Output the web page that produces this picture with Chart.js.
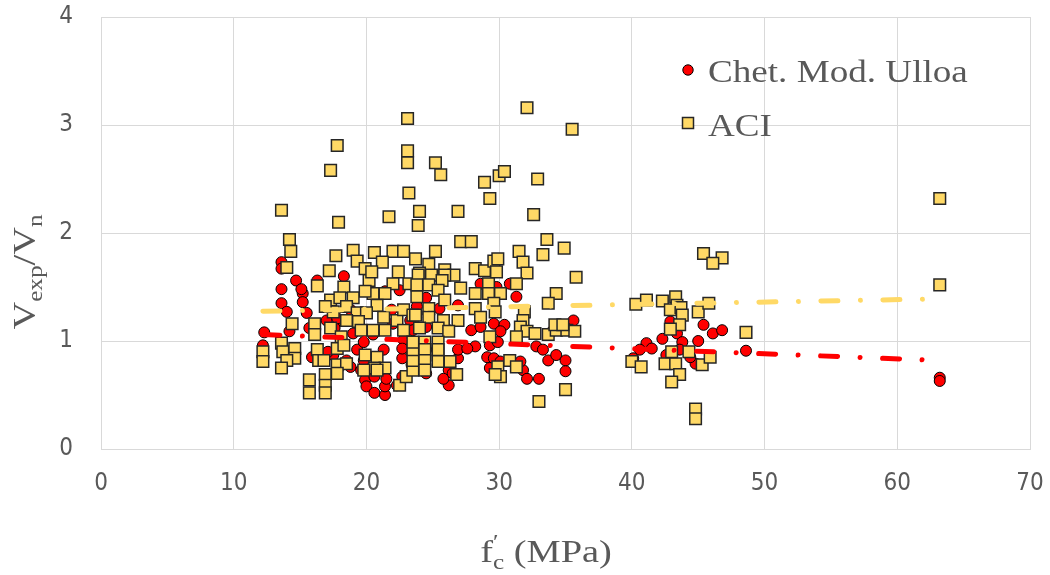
<!DOCTYPE html>
<html>
<head>
<meta charset="utf-8">
<script src="https://cdn.jsdelivr.net/npm/chart.js@4.4.1/dist/chart.umd.min.js"></script>
<style>
  html, body { margin: 0; padding: 0; background: #ffffff; }
  #wrap { width: 1050px; height: 575px; }
</style>
</head>
<body>
<div id="wrap"><canvas id="chart" width="1050" height="575"></canvas></div>
<script>
// Shear strength ratio V_exp / V_n against concrete strength f'c (MPa)

// Chet. Mod. Ulloa model: f'c values and ratios
const ulloaFc = [
  13.6, 14.7, 16.3, 18.3, 15.2, 15.2, 13.6, 14.0, 15.5, 12.3, 12.2, 14.2, 15.7, 15.9, 17.5, 19.3,
  19.8, 19.6, 19.9, 20.0, 20.6, 21.4, 21.4, 22.3, 22.7, 21.5, 20.6, 22.7, 23.3, 22.9, 18.8, 18.5,
  17.0, 17.9, 17.6, 20.5, 19.0, 21.3, 22.0, 23.3, 19.8, 22.8,
  30.8, 31.3, 26.9, 27.9, 28.6, 29.6, 30.4, 30.1, 28.2, 29.3, 29.9, 29.1, 29.6, 29.3, 30.1, 31.8,
  32.1, 33.0, 31.6, 26.2, 26.2, 25.8, 26.9, 26.9, 24.5, 32.8, 33.3, 33.7, 34.3, 35.0, 35.0, 35.6,
  34.0, 29.8, 29.1, 24.7,
  13.6, 13.6, 15.1,
  41.1, 40.6, 40.1, 42.3, 42.9, 43.4, 43.6, 43.8, 43.6, 45.0, 45.4, 46.1, 46.8, 48.6, 44.8, 44.4,
  42.6, 41.5,
  23.8, 25.5, 28.6, 21.4, 22.5, 24.5, 23.5, 24.5, 25.5, 26.2, 19.3, 17.8, 21.9, 18.8,
  26.5, 27.6, 23.4, 22.7, 25.3, 24.3, 17.1,
  63.2, 63.2
];
const ulloaRatio = [
  1.48, 1.56, 1.56, 1.60, 1.44, 1.36, 1.35, 1.27, 1.26, 1.08, 0.96, 1.09, 1.12, 0.85, 0.87, 0.92,
  0.82, 0.73, 0.64, 0.58, 0.52, 0.50, 0.58, 0.59, 0.67, 0.65, 0.67, 0.84, 0.92, 1.07, 0.76, 0.82,
  1.19, 1.19, 1.12, 1.06, 1.07, 0.92, 1.16, 1.19, 0.99, 1.01,
  1.53, 1.41, 1.33, 1.10, 1.13, 1.16, 1.15, 1.09, 0.95, 0.96, 0.99, 0.85, 0.84, 0.75, 0.81, 0.73,
  0.65, 0.65, 0.81, 0.73, 0.59, 0.65, 0.84, 0.92, 0.70, 0.95, 0.92, 0.82, 0.87, 0.82, 0.72, 1.19,
  1.09, 1.50, 1.52, 1.22,
  1.73, 1.67, 1.48,
  0.98, 0.92, 0.84, 1.02, 1.18, 1.07, 1.33, 0.99, 0.92, 1.00, 1.15, 1.07, 1.10, 0.91, 0.79, 0.85,
  0.87, 0.93,
  1.32, 1.30, 1.53, 1.46, 1.47, 1.40, 1.10, 1.13, 1.13, 1.10, 1.19, 1.21, 1.29, 1.29,
  0.70, 0.93, 0.78, 0.93, 0.92, 0.96, 0.90,
  0.66, 0.63
];

// ACI model: f'c values and ratios
const aciFc = [
  13.6, 17.9, 21.7, 23.2, 24.0, 23.9, 26.9, 29.3, 32.6, 14.2, 14.3, 27.1, 27.9, 33.6, 34.9, 33.3,
  35.8, 17.7, 19.0, 20.6, 22.0, 22.8, 25.2, 19.3, 21.2, 23.7, 24.7, 19.9, 17.2, 22.4, 24.0, 25.9,
  26.6, 28.2, 28.9, 29.6, 29.9, 29.8, 31.5, 31.8, 32.1, 14.0, 20.2, 18.3, 16.3,
  17.8, 17.3, 23.1, 23.1, 23.1, 25.2, 25.6, 28.9, 30.0, 30.4, 32.9, 32.1, 35.5,
  20.4, 23.2, 22.0, 20.5, 21.4, 19.9, 17.3, 18.0, 19.0, 20.8, 18.5, 17.5, 16.9, 19.3, 20.0, 21.3,
  22.3, 22.8, 23.5, 14.4, 16.1, 16.1, 17.3, 18.1, 18.5, 19.4, 19.6, 20.5, 21.4, 22.8, 13.6, 13.7,
  12.2, 12.2, 14.6, 14.6, 14.0, 16.3, 16.4, 16.8, 17.8, 18.3, 17.8, 18.5, 19.9, 20.8, 21.4, 20.6,
  19.8, 16.9, 15.7, 16.9, 15.7, 16.9, 13.6, 22.5, 23.0, 23.5, 23.5, 23.5, 17.8, 20.8, 25.4,
  23.9, 24.9, 25.9, 25.7, 23.8, 24.7, 25.4, 27.1, 29.2, 31.3, 28.2, 29.2, 30.1, 34.3, 33.7, 23.8,
  25.9, 24.7, 23.7, 24.7, 25.8, 26.9, 28.2, 29.6, 29.7, 28.6, 31.9, 31.8, 31.6, 32.1, 32.7, 33.7,
  34.3, 35.1, 35.7, 34.2, 34.8, 31.3, 29.3, 24.0, 25.4, 26.2, 23.5, 24.4, 25.4, 24.4, 25.4, 24.4,
  25.4, 26.3, 24.4, 29.9, 30.8, 31.3, 30.1, 26.8, 35.0, 33.0, 29.7,
  45.4, 46.8, 46.1, 40.3, 41.1, 42.3, 43.3, 43.4, 42.9, 43.7, 43.8, 43.6, 42.9, 45.0, 45.8, 48.6,
  40.0, 40.7, 42.5, 43.3, 43.0, 44.3, 43.6, 43.0, 45.3, 45.9, 44.8, 44.8,
  63.2, 63.2
];
const aciRatio = [
  2.21, 2.10, 2.15, 2.37, 2.20, 2.07, 2.20, 2.32, 2.17, 1.94, 1.83, 1.92, 1.92, 1.94, 1.86, 1.80,
  1.59, 1.79, 1.84, 1.82, 1.83, 1.83, 1.83, 1.74, 1.73, 1.76, 1.71, 1.67, 1.65, 1.64, 1.63, 1.66,
  1.61, 1.67, 1.65, 1.74, 1.76, 1.64, 1.83, 1.73, 1.63, 1.68, 1.56, 1.50, 1.51,
  2.81, 2.58, 3.06, 2.76, 2.65, 2.65, 2.54, 2.47, 2.53, 2.57, 2.50, 3.16, 2.96,
  1.64, 1.53, 1.53, 1.44, 1.44, 1.46, 1.38, 1.40, 1.40, 1.33, 1.32, 1.27, 1.32, 1.26, 1.26, 1.22,
  1.19, 1.29, 1.24, 1.16, 1.16, 1.06, 1.12, 1.04, 1.19, 1.18, 1.10, 1.10, 1.10, 1.10, 0.98, 0.90,
  0.90, 0.81, 0.93, 0.84, 0.82, 0.92, 0.82, 0.82, 0.93, 0.96, 0.78, 0.79, 0.87, 0.85, 0.75, 0.75,
  0.73, 0.69, 0.64, 0.59, 0.52, 0.52, 0.75, 0.59, 0.67, 0.73, 0.82, 0.92, 0.70, 0.73, 0.87,
  1.61, 1.61, 1.61, 1.56, 1.52, 1.52, 1.47, 1.49, 1.53, 1.53, 1.44, 1.44, 1.44, 1.44, 1.35, 1.41,
  1.38, 1.30, 1.24, 1.22, 1.19, 1.19, 1.30, 1.35, 1.27, 1.22, 1.27, 1.19, 1.13, 1.09, 1.07, 1.06,
  1.10, 1.10, 1.09, 1.15, 1.15, 1.04, 1.04, 1.12, 1.12, 1.09, 0.99, 0.99, 0.99, 0.92, 0.92, 0.82,
  0.81, 0.81, 0.73, 0.76, 0.82, 0.76, 0.67, 0.69, 0.55, 0.44, 0.69,
  1.81, 1.77, 1.72, 1.34, 1.38, 1.37, 1.41, 1.33, 1.29, 1.31, 1.24, 1.15, 1.11, 1.27, 1.35, 1.08,
  0.81, 0.76, 0.79, 0.79, 0.90, 0.90, 0.69, 0.62, 0.78, 0.85, 0.37, 0.28,
  2.32, 1.52
];

// Linear trend lines, end points over the tested f'c range
const trendFc = [12.2, 63.2];
const ulloaTrend = [1.06, 0.82];
const aciTrend = [1.276, 1.39];

// Axis ticks
const xTicks = [0, 10, 20, 30, 40, 50, 60, 70];
const yTicks = [0, 1, 2, 3, 4];

const pairs = (xs, ys) => xs.map((x, i) => ({ x: x, y: ys[i] }));

const GREY_TEXT = '#595959';
const GRID = '#D9D9D9';
const SERIF = '"Liberation Serif", "Times New Roman", serif';
const TICK_FONT = '"Liberation Sans Narrow", "DejaVu Sans Condensed", "Liberation Sans", sans-serif';
const TITLE_STRETCH = 1.2;    // wide serif lettering for the axis titles
const LEGEND_STRETCH = 1.16;  // and for the legend entries

// Measures / draws a run of text pieces (normal / subscript / superscript) left to right
function richWidth(ctx, parts, big, small) {
  let w = 0;
  parts.forEach(p => {
    ctx.font = (p.k === 'n' ? big : small) + 'px ' + SERIF;
    if (!p.stack) w += ctx.measureText(p.t).width;
  });
  return w;
}
function drawRich(ctx, parts, x, y, big, small) {
  let cx = x;
  parts.forEach(p => {
    ctx.font = (p.k === 'n' ? big : small) + 'px ' + SERIF;
    let dy = 0;
    if (p.k === 'sub') dy = big * 0.22;
    if (p.k === 'sup') dy = -big * 0.42;
    ctx.fillText(p.t, cx, y + dy);
    if (!p.stack) cx += ctx.measureText(p.t).width;
  });
}
// Draws rich text centred on (cx, baseline y) with a horizontal stretch
function drawStretched(ctx, parts, cx, y, big, small) {
  const w = richWidth(ctx, parts, big, small);
  ctx.save();
  ctx.translate(cx, y);
  ctx.scale(TITLE_STRETCH, 1);
  drawRich(ctx, parts, -w / 2, 0, big, small);
  ctx.restore();
}

const ratioTitle = [
  { t: 'V', k: 'n' }, { t: 'exp', k: 'sub' }, { t: '/V', k: 'n' }, { t: 'n', k: 'sub' }
];
const fcTitle = [
  { t: 'f', k: 'n' }, { t: '\u2032', k: 'sup', stack: true }, { t: 'c', k: 'sub' }, { t: ' (MPa)', k: 'n' }
];

const annotations = {
  id: 'annotations',
  afterDraw(chart) {
    const ctx = chart.ctx;
    ctx.save();
    ctx.fillStyle = GREY_TEXT;
    ctx.textBaseline = 'alphabetic';
    ctx.textAlign = 'left';

    // x-axis title
    drawStretched(ctx, fcTitle, 546, 562, 32, 21);

    // y-axis title, rotated
    ctx.save();
    ctx.translate(35, 272);
    ctx.rotate(-Math.PI / 2);
    drawStretched(ctx, ratioTitle, 0, 0, 32, 21);
    ctx.restore();

    // legend
    ctx.beginPath();
    ctx.arc(688, 70, 5.2, 0, Math.PI * 2);
    ctx.fillStyle = '#FF0000';
    ctx.fill();
    ctx.lineWidth = 1;
    ctx.strokeStyle = '#000000';
    ctx.stroke();

    ctx.fillStyle = '#FFD966';
    ctx.fillRect(682.5, 117.5, 11, 11);
    ctx.lineWidth = 1.5;
    ctx.strokeStyle = '#262626';
    ctx.strokeRect(682.5, 117.5, 11, 11);

    ctx.fillStyle = GREY_TEXT;
    ctx.font = '32px ' + SERIF;
    [['Chet. Mod. Ulloa', 82], ['ACI', 136]].forEach(([txt, by]) => {
      ctx.save();
      ctx.translate(708, by);
      ctx.scale(LEGEND_STRETCH, 1);
      ctx.fillText(txt, 0, 0);
      ctx.restore();
    });
    ctx.restore();
  }
};

const whiteBg = {
  id: 'whiteBg',
  beforeDraw(chart) {
    const ctx = chart.ctx;
    ctx.save();
    ctx.fillStyle = '#ffffff';
    ctx.fillRect(0, 0, chart.width, chart.height);
    ctx.restore();
  }
};

const dashDot = [17, 22.5, 0.01, 22.5];

new Chart(document.getElementById('chart'), {
  type: 'scatter',
  data: {
    datasets: [
      {
        label: 'Linear (Chet. Mod. Ulloa)',
        data: pairs(trendFc, ulloaTrend),
        showLine: true,
        borderColor: '#FF0000',
        backgroundColor: '#FF0000',
        borderWidth: 5,
        borderDash: dashDot,
        borderCapStyle: 'round',
        pointRadius: 0,
        order: 0
      },
      {
        label: 'Linear (ACI)',
        data: pairs(trendFc, aciTrend),
        showLine: true,
        borderColor: '#FFD966',
        backgroundColor: '#FFD966',
        borderWidth: 5,
        borderDash: dashDot,
        borderCapStyle: 'round',
        pointRadius: 0,
        order: 1
      },
      {
        label: 'ACI',
        data: pairs(aciFc, aciRatio),
        pointStyle: 'rect',
        pointRadius: 8.2,
        backgroundColor: '#FFD966',
        borderColor: '#262626',
        borderWidth: 1.5,
        order: 2
      },
      {
        label: 'Chet. Mod. Ulloa',
        data: pairs(ulloaFc, ulloaRatio),
        pointStyle: 'circle',
        pointRadius: 5.5,
        backgroundColor: '#FF0000',
        borderColor: '#000000',
        borderWidth: 1,
        order: 3
      }
    ]
  },
  options: {
    responsive: false,
    animation: false,
    devicePixelRatio: 1,
    layout: { padding: { left: 0, right: 20, top: 17, bottom: 0 } },
    plugins: {
      legend: { display: false },
      tooltip: { enabled: false }
    },
    scales: {
      x: {
        type: 'linear',
        min: 0,
        max: 70,
        afterBuildTicks(scale) { scale.ticks = xTicks.map(v => ({ value: v })); },
        afterFit(scale) {
          scale.height = 126;
          scale.paddingLeft = 0; scale.paddingRight = 0;
        },
        ticks: {
          color: GREY_TEXT,
          padding: 20,
          font: { family: TICK_FONT, size: 24 }
        },
        grid: { color: GRID, lineWidth: 1, drawTicks: false },
        border: { color: GRID, width: 1 }
      },
      y: {
        type: 'linear',
        min: 0,
        max: 4,
        afterBuildTicks(scale) { scale.ticks = yTicks.map(v => ({ value: v })); },
        afterFit(scale) {
          scale.width = 101;
          scale.paddingTop = 0; scale.paddingBottom = 0;
        },
        ticks: {
          color: GREY_TEXT,
          padding: 28,
          font: { family: TICK_FONT, size: 24 }
        },
        grid: { color: GRID, lineWidth: 1, drawTicks: false },
        border: { color: GRID, width: 1 }
      }
    }
  },
  plugins: [whiteBg, annotations]
});
</script>
</body>
</html>
